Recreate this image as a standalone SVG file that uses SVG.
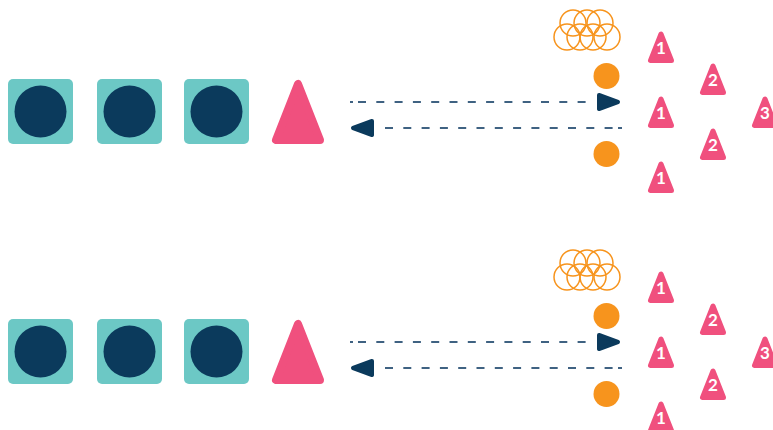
<svg xmlns="http://www.w3.org/2000/svg" width="773" height="430" viewBox="0 0 773 430">
<style>
.sq{fill:#6cc8c5}
.dot{fill:#0b3a5c}
.big{fill:#f0507e;stroke:#f0507e;stroke-width:8;stroke-linejoin:round}
.tri{fill:#f0507e;stroke:#f0507e;stroke-width:5;stroke-linejoin:round}
.num{fill:#fff;font-family:Lato,"Open Sans",sans-serif;font-weight:bold;font-size:17px;text-anchor:middle}
.cl{fill:none;stroke:#f7941d;stroke-width:1.5}
.or{fill:#f7941d}
.dash{stroke:#3f6282;stroke-width:2;stroke-dasharray:8 10.3;fill:none}
.ah{fill:#0b3a5c;stroke:#0b3a5c;stroke-width:4;stroke-linejoin:round}
</style>
<defs>
<g id="ctri"><polygon class="tri" points="0,-13 -10.5,13.5 10.5,13.5"/></g>
<g id="cloud">
<circle class="cl" cx="573" cy="23" r="13"/><circle class="cl" cx="587" cy="23" r="13"/><circle class="cl" cx="600" cy="23" r="13"/>
<circle class="cl" cx="567" cy="37" r="13"/><circle class="cl" cx="580" cy="37" r="13"/><circle class="cl" cx="593" cy="37" r="13"/><circle class="cl" cx="607" cy="37" r="13"/>
</g>
<g id="arrows">
<path class="dash" d="M350,102 H353 M358,102 H586"/>
<polygon class="ah" points="599,95 618,102 599,109"/>
<path class="dash" d="M385,128 H613 M618,128 H622"/>
<polygon class="ah" points="372,121 353,128 372,135"/>
</g>
</defs>
<g id="panel1">
<g id="n1"><rect class="sq" x="8" y="79" width="65" height="65" rx="5"/><circle class="dot" cx="40.5" cy="111.5" r="26"/></g>
<g id="n2"><rect class="sq" x="97" y="79" width="65" height="65" rx="5"/><circle class="dot" cx="129.5" cy="111.5" r="26"/></g>
<g id="n3"><rect class="sq" x="184" y="79" width="65" height="65" rx="5"/><circle class="dot" cx="216.5" cy="111.5" r="26"/></g>
<g id="n4"><polygon class="big" points="298,84 276,140 320,140"/></g>
<g id="conn1"><use href="#arrows"/></g>
<g id="cloud1"><use href="#cloud"/></g>
<g id="o1"><circle class="or" cx="606.5" cy="76" r="13"/></g>
<g id="o2"><circle class="or" cx="606.5" cy="154" r="13"/></g>
<g id="t1a"><use href="#ctri" x="661" y="47"/><text class="num" x="661" y="54">1</text></g>
<g id="t2a"><use href="#ctri" x="713" y="79"/><text class="num" x="713" y="86">2</text></g>
<g id="t1b"><use href="#ctri" x="661" y="112"/><text class="num" x="661" y="119">1</text></g>
<g id="t3"><use href="#ctri" x="765" y="112"/><text class="num" x="765" y="119">3</text></g>
<g id="t2b"><use href="#ctri" x="713" y="144"/><text class="num" x="713" y="151">2</text></g>
<g id="t1c"><use href="#ctri" x="661" y="177"/><text class="num" x="661" y="184">1</text></g>
</g>
<g id="panel2" transform="translate(0,240)">
<g id="m1"><rect class="sq" x="8" y="79" width="65" height="65" rx="5"/><circle class="dot" cx="40.5" cy="111.5" r="26"/></g>
<g id="m2"><rect class="sq" x="97" y="79" width="65" height="65" rx="5"/><circle class="dot" cx="129.5" cy="111.5" r="26"/></g>
<g id="m3"><rect class="sq" x="184" y="79" width="65" height="65" rx="5"/><circle class="dot" cx="216.5" cy="111.5" r="26"/></g>
<g id="m4"><polygon class="big" points="298,84 276,140 320,140"/></g>
<g id="conn2"><use href="#arrows"/></g>
<g id="cloud2"><use href="#cloud"/></g>
<g id="p1"><circle class="or" cx="606.5" cy="76" r="13"/></g>
<g id="p2"><circle class="or" cx="606.5" cy="154" r="13"/></g>
<g id="u1a"><use href="#ctri" x="661" y="47"/><text class="num" x="661" y="54">1</text></g>
<g id="u2a"><use href="#ctri" x="713" y="79"/><text class="num" x="713" y="86">2</text></g>
<g id="u1b"><use href="#ctri" x="661" y="112"/><text class="num" x="661" y="119">1</text></g>
<g id="u3"><use href="#ctri" x="765" y="112"/><text class="num" x="765" y="119">3</text></g>
<g id="u2b"><use href="#ctri" x="713" y="144"/><text class="num" x="713" y="151">2</text></g>
<g id="u1c"><use href="#ctri" x="661" y="177"/><text class="num" x="661" y="184">1</text></g>
</g>
</svg>
